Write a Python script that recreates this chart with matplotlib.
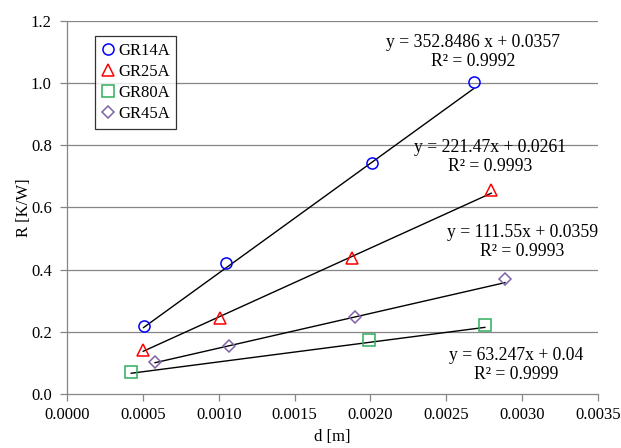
import numpy as np
import matplotlib.pyplot as plt
from matplotlib.ticker import FormatStrFormatter

plt.rcParams['font.family'] = ['Liberation Serif', 'DejaVu Serif']
plt.rcParams['font.size'] = 12

# data
series = ['GR14A', 'GR25A', 'GR80A', 'GR45A']
d_gr14 = [0.000504, 0.00105, 0.00201, 0.00268]
r_gr14 = [0.219, 0.421, 0.742, 1.004]
d_gr25 = [0.000502, 0.001006, 0.00188, 0.002796]
r_gr25 = [0.141, 0.244, 0.436, 0.656]
d_gr80 = [0.000423, 0.00199, 0.002754]
r_gr80 = [0.071, 0.174, 0.222]
d_gr45 = [0.00058, 0.00107, 0.0019, 0.002887]
r_gr45 = [0.104, 0.155, 0.247, 0.369]

# trendline coefficients as printed
slopes = [352.8486, 221.47, 63.247, 111.55]
intercepts = [0.0357, 0.0261, 0.04, 0.0359]
eq_texts = ['y = 352.8486 x + 0.0357\nR² = 0.9992',
            'y = 221.47x + 0.0261\nR² = 0.9993',
            'y = 63.247x + 0.04\nR² = 0.9999',
            'y = 111.55x + 0.0359\nR² = 0.9993']
eq_pos = [(0.002676, 1.100), (0.002787, 0.762), (0.00296, 0.093), (0.0030, 0.489)]

xs = [d_gr14, d_gr25, d_gr80, d_gr45]
ys = [r_gr14, r_gr25, r_gr80, r_gr45]
markers = ['o', '^', 's', 'D']
sizes = [8, 8.5, 8, 6.5]
colors = ['#0000FF', '#FF0000', '#2EAF5B', '#7F64A8']

fig = plt.figure(figsize=(6.21, 4.48), dpi=100)
ax = fig.add_axes([0.108, 0.1205, 0.855, 0.8335])

grid_c = '#868686'
for y in np.arange(0.2, 1.21, 0.2):
    ax.axhline(y, color=grid_c, lw=0.9, zorder=0)

for i in range(4):
    xl = np.array([min(xs[i]), max(xs[i])])
    ax.plot(xl, slopes[i] * xl + intercepts[i], color='black', lw=1.0, zorder=2)
    ax.plot(xs[i], ys[i], linestyle='none', marker=markers[i], ms=sizes[i],
            mfc='none', mec=colors[i], mew=1.1, label=series[i], zorder=3)
    ax.text(eq_pos[i][0], eq_pos[i][1], eq_texts[i], ha='center', va='center',
            multialignment='center', linespacing=1.15, fontsize=12.7, zorder=4)

ax.set_xlim(0, 0.0035)
ax.set_ylim(0, 1.2)
ax.set_xticks(np.arange(0, 0.00351, 0.0005))
ax.set_yticks(np.arange(0, 1.21, 0.2))
ax.xaxis.set_major_formatter(FormatStrFormatter('%.4f'))
ax.yaxis.set_major_formatter(FormatStrFormatter('%.1f'))

for s in ['top', 'right']:
    ax.spines[s].set_visible(False)
for s in ['left', 'bottom']:
    ax.spines[s].set_color(grid_c)
    ax.spines[s].set_linewidth(0.9)
ax.tick_params(direction='out', length=5, width=0.9, color=grid_c, pad=4)
ax.tick_params(axis='y', pad=6)

ax.set_xlabel('d [m]', labelpad=5)
ax.set_ylabel('R [K/W]', labelpad=-1)

leg = ax.legend(loc='upper left', bbox_to_anchor=(0.052, 0.958), frameon=True,
                fancybox=False, edgecolor='black', handlelength=0.8,
                handletextpad=0.2, borderpad=0.4, labelspacing=0.3,
                borderaxespad=0)
leg.get_frame().set_linewidth(0.9)

fig.savefig('out.png', dpi=100)
